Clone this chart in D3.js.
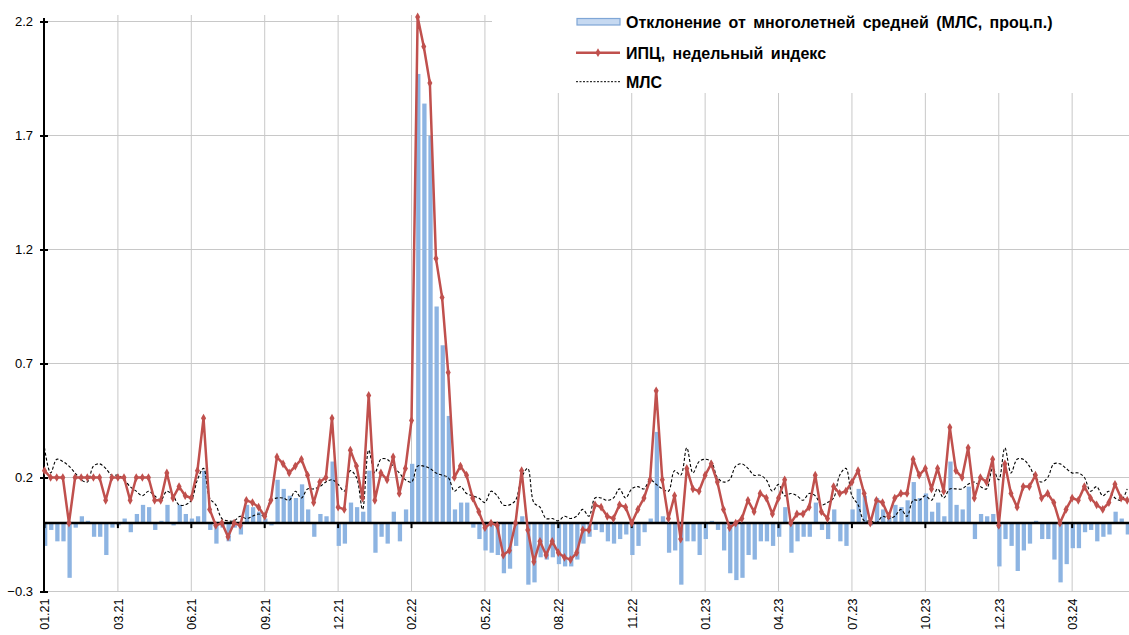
<!DOCTYPE html>
<html>
<head>
<meta charset="utf-8">
<script src="https://cdn.jsdelivr.net/npm/d3@7"></script>
<style>
  html, body { margin: 0; padding: 0; background: #fff; }
  svg { display: block; font-family: "Liberation Sans", Arial, sans-serif; }
</style>
</head>
<body>
<svg id="chart" width="1129" height="635"></svg>
<script>
// weekly CPI, % (red line)
const cpi = [
  0.23,0.20,0.20,0.20,0.00,0.20,0.20,0.20,0.20,0.20,
  0.10,0.20,0.20,0.20,0.10,0.20,0.20,0.20,0.10,0.10,
  0.22,0.11,0.16,0.12,0.11,0.23,0.46,0.06,-0.01,0.00,
  -0.06,0.00,-0.01,0.10,0.09,0.07,0.03,0.10,0.29,0.26,
  0.22,0.25,0.28,0.21,0.09,0.18,0.20,0.46,0.07,0.06,
  0.32,0.25,0.11,0.56,0.10,0.22,0.19,0.29,0.13,0.24,
  0.45,2.22,2.09,1.93,1.16,0.99,0.66,0.20,0.25,0.21,
  0.11,0.05,-0.02,0.00,-0.01,-0.14,-0.12,0.00,0.23,-0.03,
  -0.17,-0.08,-0.14,-0.08,-0.13,-0.15,-0.16,-0.13,-0.03,-0.03,
  0.08,0.07,0.03,0.02,0.08,0.07,0.00,0.06,0.11,0.19,
  0.58,0.19,0.02,0.12,-0.07,0.24,0.15,0.14,0.21,0.26,
  0.18,0.06,-0.02,0.00,0.02,0.10,0.05,0.13,0.11,0.04,
  0.11,0.19,0.00,0.04,0.04,0.07,0.21,0.05,0.02,0.16,
  0.13,0.14,0.18,0.23,0.13,0.00,0.10,0.09,0.03,0.11,
  0.13,0.13,0.28,0.21,0.24,0.15,0.24,0.14,0.42,0.23,
  0.20,0.33,0.11,0.20,0.18,0.28,-0.01,0.26,0.13,0.07,
  0.16,0.16,0.21,0.11,0.13,0.09,0.00,0.06,0.11,0.10,
  0.16,0.11,0.08,0.06,0.09,0.17,0.11,0.10
];

// long-term average (dashed)
const mls = [
  0.33,0.22,0.28,0.27,0.25,0.22,0.19,0.18,0.25,0.26,
  0.24,0.21,0.21,0.19,0.16,0.14,0.12,0.14,0.12,0.10,
  0.14,0.12,0.08,0.08,0.10,0.19,0.24,0.11,0.08,0.02,
  0.01,0.01,0.03,0.02,0.03,0.04,0.03,0.10,0.11,0.11,
  0.10,0.14,0.11,0.15,0.15,0.16,0.18,0.19,0.17,0.14,
  0.23,0.20,0.06,0.32,0.22,0.28,0.28,0.25,0.22,0.19,
  0.18,0.25,0.25,0.24,0.22,0.21,0.20,0.14,0.16,0.13,
  0.12,0.11,0.09,0.14,0.12,0.08,0.08,0.10,0.20,0.24,
  0.09,0.07,0.02,0.02,0.01,0.03,0.02,0.03,0.06,0.03,
  0.11,0.11,0.10,0.11,0.15,0.11,0.15,0.16,0.15,0.19,
  0.17,0.15,0.14,0.23,0.21,0.33,0.22,0.27,0.28,0.27,
  0.20,0.18,0.19,0.25,0.26,0.24,0.21,0.21,0.19,0.14,
  0.17,0.12,0.13,0.12,0.10,0.13,0.12,0.08,0.09,0.11,
  0.21,0.24,0.12,0.08,0.01,0.01,0.00,0.03,0.02,0.03,
  0.06,0.03,0.10,0.10,0.12,0.10,0.15,0.11,0.15,0.15,
  0.15,0.17,0.18,0.16,0.15,0.24,0.19,0.33,0.22,0.28,
  0.28,0.25,0.20,0.18,0.20,0.26,0.26,0.24,0.22,0.22,
  0.20,0.14,0.16,0.12,0.14,0.11,0.10,0.15
];

// deviation from the long-term average, p.p. (bars)
const dev = [
  -0.10,-0.03,-0.08,-0.08,-0.24,-0.02,0.03,0.01,-0.06,-0.06,
  -0.14,-0.02,-0.01,0.02,-0.04,0.04,0.08,0.07,-0.03,0.01,
  0.08,-0.01,0.08,0.04,0.02,0.03,0.23,-0.03,-0.09,-0.02,
  -0.08,-0.02,-0.05,0.08,0.07,0.05,0.02,-0.01,0.19,0.15,
  0.12,0.11,0.17,0.06,-0.06,0.04,0.03,0.27,-0.10,-0.09,
  0.09,0.07,0.05,0.23,-0.13,-0.06,-0.09,0.05,-0.08,0.06,
  0.26,1.97,1.84,1.70,0.95,0.78,0.47,0.06,0.09,0.09,
  -0.02,-0.07,-0.12,-0.13,-0.14,-0.22,-0.20,-0.10,0.03,-0.27,
  -0.26,-0.15,-0.16,-0.15,-0.18,-0.19,-0.19,-0.16,-0.09,-0.06,
  -0.03,-0.04,-0.08,-0.09,-0.07,-0.05,-0.14,-0.10,-0.04,0.02,
  0.40,0.03,-0.13,-0.12,-0.27,-0.08,-0.08,-0.14,-0.07,0.01,
  -0.03,-0.12,-0.22,-0.25,-0.24,-0.14,-0.16,-0.08,-0.08,-0.10,
  -0.06,0.07,-0.13,-0.08,-0.06,-0.06,0.09,-0.03,-0.07,0.06,
  -0.08,-0.10,0.06,0.15,0.12,-0.01,0.11,0.06,0.03,0.08,
  0.07,0.10,0.18,0.11,0.13,0.05,0.09,0.03,0.27,0.08,
  0.06,0.16,-0.07,0.04,0.03,0.04,-0.19,-0.07,-0.10,-0.21,
  -0.12,-0.09,0.01,-0.07,-0.07,-0.16,-0.26,-0.18,-0.11,-0.11,
  -0.04,-0.03,-0.08,-0.06,-0.05,0.05,0.02,-0.05
];

// x tick labels, one every 12 weeks
const tickLabels = ["01.21","03.21","06.21","09.21","12.21","02.22","05.22","08.22",
                    "11.22","01.23","04.23","07.23","10.23","12.23","03.24"];
const tickStep = 12;
const yTicks = [-0.3, 0.2, 0.7, 1.2, 1.7, 2.2];

const legendNames = ["Отклонение от многолетней средней (МЛС, проц.п.)",
                     "ИПЦ, недельный индекс",
                     "МЛС"];

const svg = d3.select("#chart");
const W = 1129;
const plotLeft = 44, plotTop = 15, plotBottom = 591.5;

const n = cpi.length;
const x = d3.scaleLinear().domain([0, n - 1]).range([44.5, 44.5 + (n - 1) * 6.117]);
const y = d3.scaleLinear().domain([-0.3, 2.2]).range([591.5, 21.5]);
const tickIdx = tickLabels.map((d, i) => i * tickStep);

// gridlines
svg.append("g").selectAll("line")
  .data(yTicks).enter().append("line")
  .attr("x1", plotLeft).attr("x2", W)
  .attr("y1", d => y(d)).attr("y2", d => y(d))
  .attr("stroke", "#c8c8c8").attr("stroke-width", 1);

svg.append("g").selectAll("line")
  .data(tickIdx.slice(1)).enter().append("line")
  .attr("x1", d => x(d)).attr("x2", d => x(d))
  .attr("y1", plotTop).attr("y2", plotBottom)
  .attr("stroke", "#c8c8c8").attr("stroke-width", 1);

// legend background hides gridlines behind it
svg.append("rect")
  .attr("x", 492).attr("y", 0).attr("width", W - 492).attr("height", 93)
  .attr("fill", "#fff");

// bars
svg.append("g").selectAll("rect")
  .data(dev).enter().append("rect")
  .attr("x", (d, i) => x(i) - 1.5)
  .attr("width", 4.3)
  .attr("y", d => y(Math.max(0, d)))
  .attr("height", d => Math.abs(y(d) - y(0)))
  .attr("fill", "#8db4e2");

// y axis
const yAxis = svg.append("g")
  .attr("transform", `translate(${plotLeft},0)`)
  .call(d3.axisLeft(y).tickValues(yTicks).tickFormat(d3.format(".1f")).tickSize(4).tickPadding(7));
yAxis.select(".domain").attr("d", `M0,18V${plotBottom}`).attr("stroke", "#000").attr("stroke-width", 2);
yAxis.selectAll(".tick line").attr("x1", -4).attr("x2", 4).attr("stroke", "#000").attr("stroke-width", 2);
yAxis.selectAll("text").attr("font-size", 13).attr("fill", "#000")
  .attr("font-family", "'Liberation Sans', Arial, sans-serif");

// zero line with category ticks
svg.append("line")
  .attr("x1", plotLeft).attr("x2", W)
  .attr("y1", y(0)).attr("y2", y(0))
  .attr("stroke", "#000").attr("stroke-width", 2.5);
svg.append("g").selectAll("line")
  .data(tickIdx).enter().append("line")
  .attr("x1", d => x(d)).attr("x2", d => x(d))
  .attr("y1", y(0)).attr("y2", y(0) + 5)
  .attr("stroke", "#000").attr("stroke-width", 2);

// x labels
const xAxis = svg.append("g")
  .attr("transform", `translate(0,${plotBottom})`)
  .call(d3.axisBottom(x).tickValues(tickIdx).tickFormat((d, i) => tickLabels[i]).tickSize(0));
xAxis.select(".domain").remove();
xAxis.selectAll("text")
  .attr("transform", "rotate(-90)")
  .attr("x", -7).attr("y", 0).attr("dy", "0.35em")
  .style("text-anchor", "end")
  .attr("font-size", 12.5).attr("fill", "#000")
  .attr("font-family", "'Liberation Sans', Arial, sans-serif");

// MLS dashed
svg.append("path")
  .datum(mls)
  .attr("d", d3.line().x((d, i) => x(i)).y(d => y(d)).curve(d3.curveCatmullRom.alpha(0.5)))
  .attr("fill", "none").attr("stroke", "#000").attr("stroke-width", 1.1)
  .attr("stroke-dasharray", "3,2");

// CPI line + markers
svg.append("path")
  .datum(cpi)
  .attr("d", d3.line().x((d, i) => x(i)).y(d => y(d)))
  .attr("fill", "none").attr("stroke", "#c0504d").attr("stroke-width", 2.5)
  .attr("stroke-linejoin", "round");

svg.append("g").selectAll("path")
  .data(cpi).enter().append("path")
  .attr("transform", (d, i) => `translate(${x(i)},${y(d)})`)
  .attr("d", d3.symbol().type(d3.symbolDiamond).size(22))
  .attr("fill", "#c0504d");

// legend
const lg = svg.append("g").attr("font-size", 16).attr("font-weight", "bold");
lg.append("rect")
  .attr("x", 577).attr("y", 18.5).attr("width", 43).attr("height", 6.5)
  .attr("fill", "#c6d9f1").attr("stroke", "#7fa6d6").attr("stroke-width", 1.2);
lg.append("line")
  .attr("x1", 576).attr("x2", 620).attr("y1", 52.7).attr("y2", 52.7)
  .attr("stroke", "#c0504d").attr("stroke-width", 2.5);
lg.append("path")
  .attr("transform", "translate(598,52.7)")
  .attr("d", d3.symbol().type(d3.symbolDiamond).size(22))
  .attr("fill", "#c0504d");
lg.append("line")
  .attr("x1", 576).attr("x2", 620).attr("y1", 81.7).attr("y2", 81.7)
  .attr("stroke", "#000").attr("stroke-width", 1).attr("stroke-dasharray", "2,1.5");
lg.selectAll("text")
  .data(legendNames).enter().append("text")
  .attr("x", 626)
  .attr("y", (d, i) => [27.5, 58.5, 87.5][i])
  .attr("fill", "#000")
  .style("word-spacing", "3px")
  .text(d => d);
</script>
</body>
</html>
